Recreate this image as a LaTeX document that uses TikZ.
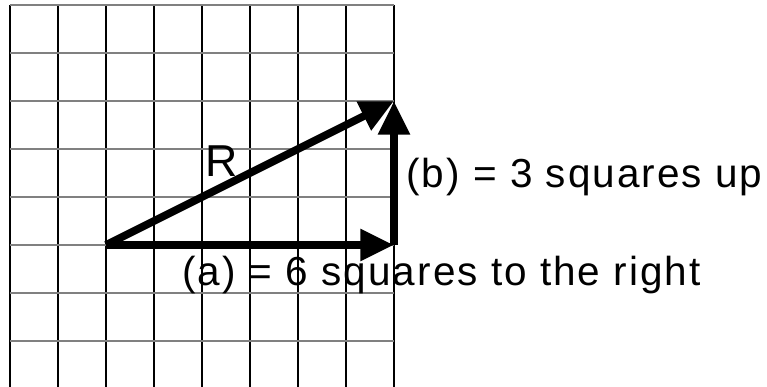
\documentclass[tikz,border=0pt]{standalone}
\usepackage{fontspec}
\setmainfont{Liberation Sans}[LetterSpace=5]
\usepackage{tikz}
\usetikzlibrary{arrows.meta}

\begin{document}
\begin{tikzpicture}[
    gridv/.style={black, line width=0.6pt},
    gridh/.style={gray, line width=0.8pt},
    vec/.style={line width=4.6pt, -{Triangle[length=20pt, width=18pt]}},
    lbl/.style={font=\fontsize{24}{28}\selectfont, inner sep=0pt}
  ]
  \useasboundingbox (-0.2083,0.1042) rectangle (15.771,-7.958);
  % squares
  \foreach \x in {0,...,8} \draw[gridv] (\x,0) -- (\x,-7.958);
  \foreach \y in {0,...,7} \draw[gridh] (0,-\y) -- (8,-\y);
  % vectors
  \coordinate (start) at (2,-5);
  \coordinate (corner) at (8,-5);
  \coordinate (tip) at (8,-2);
  \draw[vec] (start) -- (tip);
  \draw[vec] (start) -- (corner);
  \draw[vec] (corner) -- (tip);
  \node[lbl, font=\fontsize{26.5}{30}\selectfont] (rlbl) at (4.40,-3.25) {R};
  \node[lbl, anchor=west] (blbl) at (8.25,-3.59) {(b) = 3 squares up};
  \node[lbl, anchor=west] (albl) at (3.58,-5.625) {(a) = 6 squares to the right};
\end{tikzpicture}
\end{document}
